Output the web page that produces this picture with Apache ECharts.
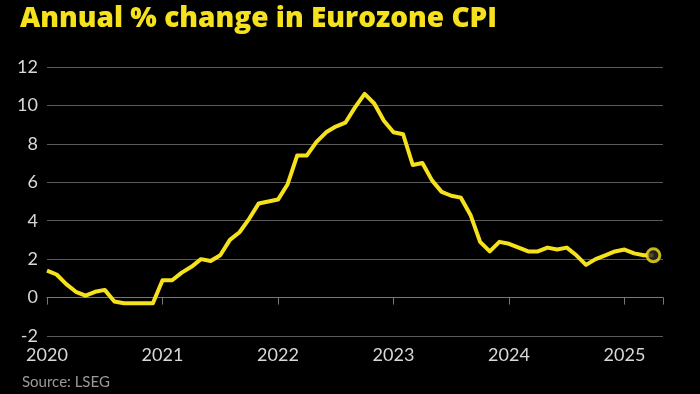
<!DOCTYPE html>
<html><head><meta charset="utf-8">
<script src="https://cdn.jsdelivr.net/npm/echarts@6/dist/echarts.min.js"></script>
<style>html,body{margin:0;padding:0;background:#000;}#c{width:700px;height:394px;}</style>
</head><body><div id="c"></div>
<script>
const startYear = 2020;
const yearTicks = ['2020','2021','2022','2023','2024','2025'];
const cpi2020 = [1.4, 1.2, 0.7, 0.3, 0.1, 0.3, 0.4, -0.2, -0.3, -0.3, -0.3, -0.3];
const cpi2021 = [0.9, 0.9, 1.3, 1.6, 2.0, 1.9, 2.2, 3.0, 3.4, 4.1, 4.9, 5.0];
const cpi2022 = [5.1, 5.9, 7.4, 7.4, 8.1, 8.6, 8.9, 9.1, 9.9, 10.6, 10.1, 9.2];
const cpi2023 = [8.6, 8.5, 6.9, 7.0, 6.1, 5.5, 5.3, 5.2, 4.3, 2.9, 2.4, 2.9];
const cpi2024 = [2.8, 2.6, 2.4, 2.4, 2.6, 2.5, 2.6, 2.2, 1.7, 2.0, 2.2, 2.4];
const cpi2025 = [2.5, 2.3, 2.2, 2.2];

const values = [].concat(cpi2020, cpi2021, cpi2022, cpi2023, cpi2024, cpi2025);
const data = values.map((v, i) => [i, v]);
const last = data[data.length - 1];
const YELLOW = '#f6e21c';

const chart = echarts.init(document.getElementById('c'), null, {renderer: 'canvas'});
chart.setOption({
  backgroundColor: '#000',
  animation: false,
  title: [{
    text: 'Annual % change in Eurozone CPI',
    left: 15, top: 0,
    textStyle: {color: YELLOW, fontFamily: 'Open Sans', fontWeight: 800, fontSize: 28}
  }, {
    text: 'Source: LSEG',
    left: 17, top: 370,
    textStyle: {color: '#9a9a9a', fontFamily: 'Lato', fontWeight: 400, fontSize: 15}
  }],
  grid: {left: 47, right: 37, top: 67, bottom: 58, containLabel: false},
  xAxis: {
    type: 'value', min: 0, max: 64, interval: 12,
    axisLine: {show: true, lineStyle: {color: '#777', width: 1}},
    axisTick: {show: true, length: 7, lineStyle: {color: '#777'}},
    splitLine: {show: false},
    axisLabel: {
      color: '#d8d8d8', fontFamily: 'Lato', fontSize: 18, margin: 10,
      formatter: v => yearTicks[v / 12] || ''
    }
  },
  yAxis: {
    type: 'value', min: -2, max: 12, interval: 2,
    axisLine: {show: false}, axisTick: {show: false},
    splitLine: {lineStyle: {color: '#5a5a5a', width: 1}},
    axisLabel: {color: '#d8d8d8', fontFamily: 'Lato', fontSize: 18, margin: 9}
  },
  series: [{
    type: 'line', data: data, symbol: 'none',
    lineStyle: {color: YELLOW, width: 4, join: 'round'},
    z: 3
  }, {
    type: 'scatter', data: [last], symbol: 'circle', symbolSize: 13,
    itemStyle: {color: '#2a2a2a', borderColor: YELLOW, borderWidth: 3},
    z: 4
  }]
});
</script></body></html>
